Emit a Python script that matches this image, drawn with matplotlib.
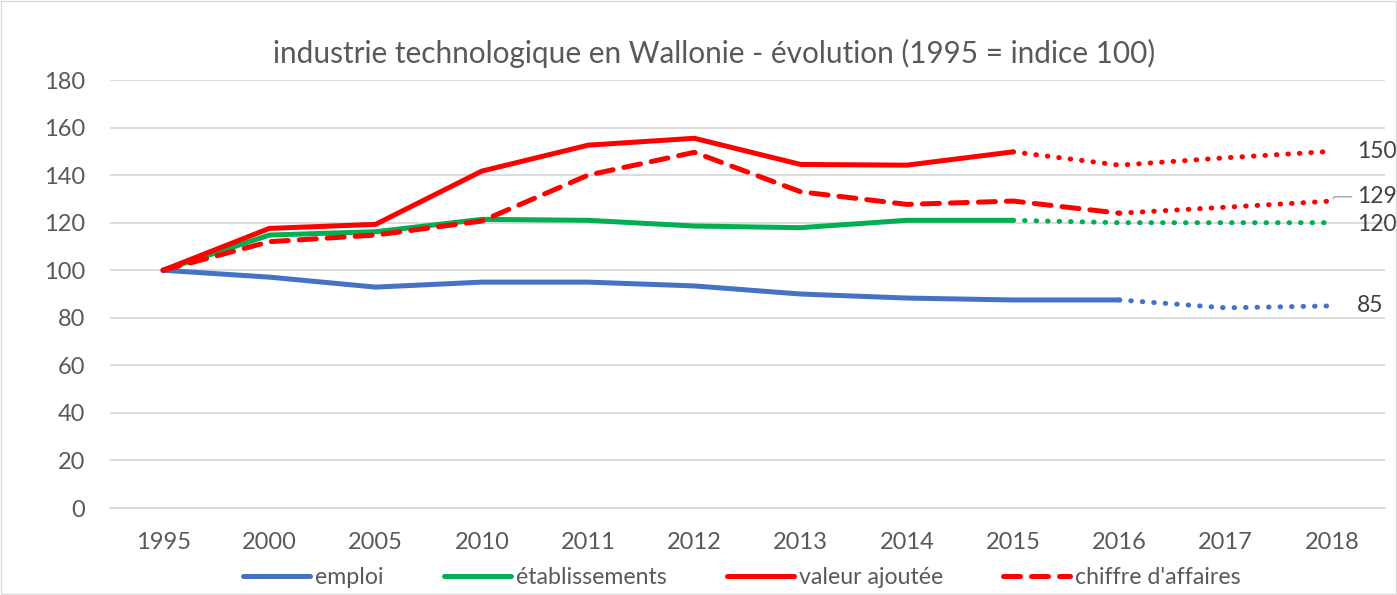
import matplotlib
matplotlib.use("Agg")
import matplotlib.pyplot as plt
from matplotlib.patches import Rectangle

plt.rcParams["font.family"] = ["Lato", "DejaVu Sans"]

# === données (1995 = indice 100) ===
annees = ["1995", "2000", "2005", "2010", "2011", "2012", "2013", "2014",
          "2015", "2016", "2017", "2018"]
emploi = [100, 97.1, 92.9, 95.0, 95.0, 93.4, 90.0, 88.3, 87.5, 87.5, 84.2, 85.0]
etablissements = [100, 114.8, 116.2, 121.4, 121.0, 118.6, 117.9, 121.0, 121.0, 120.0, 120.0, 120.0]
valeur_ajoutee = [100, 117.6, 119.3, 141.7, 152.6, 155.5, 144.5, 144.2, 149.8, 144.2, 147.3, 150.0]
chiffre_affaires = [100, 112.0, 114.8, 120.7, 140.0, 149.6, 133.0, 127.7, 129.1, 124.0, 126.5, 129.1]
# dernier indice "réel" avant la partie projetée (pointillés)
fin_emploi = 9
fin_etab = 8
fin_va = 8
fin_ca = 9
etiquettes_fin = ["85", "120", "150", "129"]

BLEU = "#4472C4"
VERT = "#00B050"
ROUGE = "#FF0000"
GRIS_TXT = "#595959"
GRIS_GRILLE = "#D9D9D9"

fig = plt.figure(figsize=(13.97, 5.95), dpi=100)
ax = fig.add_axes([0.0787, 0.1462, 0.9127, 0.7193])

x = list(range(len(annees)))
lw = 3.6
dots = (0, (0.1, 2.2))
series = [
    ("emploi", emploi, fin_emploi, BLEU, "-"),
    ("établissements", etablissements, fin_etab, VERT, "-"),
    ("valeur ajoutée", valeur_ajoutee, fin_va, ROUGE, "-"),
    ("chiffre d'affaires", chiffre_affaires, fin_ca, ROUGE, (0, (3.4, 2.2))),
]
for nom, vals, fin, coul, style in series:
    ax.plot(x[:fin + 1], vals[:fin + 1], color=coul, lw=lw, linestyle=style,
            solid_capstyle="round", dash_capstyle="round", label=nom, zorder=3)
    ax.plot(x[fin:], vals[fin:], color=coul, lw=lw, linestyle=dots,
            dash_capstyle="round", zorder=3)

# étiquettes en fin de courbe
ax.text(11.24, emploi[-1], etiquettes_fin[0], fontsize=16.5, color="#404040", va="center", ha="left")
ax.text(11.24, etablissements[-1] - 0.6, etiquettes_fin[1], fontsize=16.5, color="#404040", va="center", ha="left")
ax.text(11.24, valeur_ajoutee[-1], etiquettes_fin[2], fontsize=16.5, color="#404040", va="center", ha="left")
ax.annotate(etiquettes_fin[3], xy=(11.0, chiffre_affaires[-1]), xytext=(11.24, chiffre_affaires[-1] + 1.8),
            fontsize=16.5, color="#404040", va="center", ha="left",
            arrowprops=dict(arrowstyle="-", color="#A6A6A6", lw=1,
                            shrinkA=2, shrinkB=2,
                            connectionstyle="angle,angleA=0,angleB=60,rad=0"))

ax.set_xlim(-0.5, 11.5)
ax.set_ylim(0, 180)
ax.set_yticks(range(0, 181, 20))
ax.set_xticks(x)
ax.set_xticklabels(annees)
ax.grid(axis="y", color=GRIS_GRILLE, lw=1.3)
ax.set_axisbelow(True)
for s in ["top", "right", "left"]:
    ax.spines[s].set_visible(False)
ax.spines["bottom"].set_color(GRIS_GRILLE)
ax.spines["bottom"].set_linewidth(1.3)
ax.tick_params(axis="both", length=0, labelsize=17, labelcolor=GRIS_TXT)
ax.tick_params(axis="x", pad=17)
ax.tick_params(axis="y", pad=18)

fig.text(0.511, 0.911, "industrie technologique en Wallonie - évolution (1995 = indice 100)",
         ha="center", va="center", fontsize=21.4, color=GRIS_TXT)

fig.legend(loc="center", bbox_to_anchor=(0.531, 0.029), ncol=4, frameon=False,
           fontsize=16.7, labelcolor=GRIS_TXT, handlelength=2.9, handletextpad=0.2,
           columnspacing=2.6)

fig.patches.append(Rectangle((0.001, 0.001), 0.998, 0.998, transform=fig.transFigure,
                             fill=False, edgecolor="#D9D9D9", lw=1))

fig.savefig("out.png", dpi=100)
